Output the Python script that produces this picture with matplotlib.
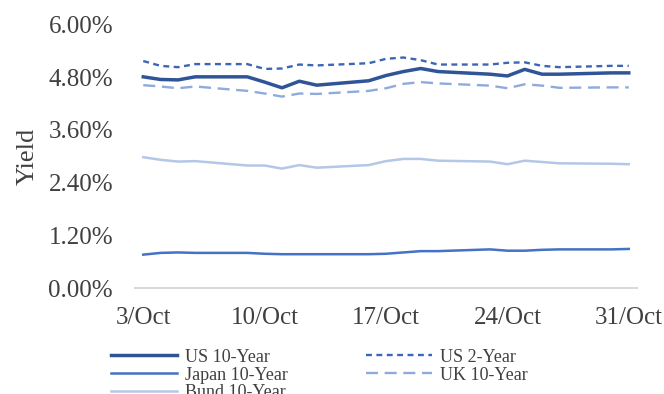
import pandas as pd
import matplotlib
matplotlib.use("Agg")
import matplotlib.pyplot as plt
import matplotlib.dates as mdates

# trading days, October 2023
days = ["2023-10-03", "2023-10-04", "2023-10-05", "2023-10-06",
        "2023-10-09", "2023-10-10", "2023-10-11", "2023-10-12", "2023-10-13",
        "2023-10-16", "2023-10-17", "2023-10-18", "2023-10-19", "2023-10-20",
        "2023-10-23", "2023-10-24", "2023-10-25", "2023-10-26", "2023-10-27",
        "2023-10-30", "2023-10-31"]

# yields in percent
us10 = [4.81, 4.75, 4.74, 4.81, 4.81, 4.69, 4.56, 4.71, 4.62, 4.72, 4.84,
        4.93, 5.00, 4.93, 4.87, 4.83, 4.98, 4.87, 4.87, 4.90, 4.90]
us2 = [5.17, 5.06, 5.03, 5.10, 5.10, 4.99, 5.00, 5.09, 5.07, 5.12, 5.22,
       5.25, 5.19, 5.09, 5.09, 5.13, 5.14, 5.06, 5.03, 5.06, 5.06]
japan10 = [0.76, 0.80, 0.81, 0.80, 0.80, 0.78, 0.77, 0.77, 0.77, 0.77, 0.78,
           0.81, 0.84, 0.84, 0.88, 0.85, 0.85, 0.87, 0.88, 0.88, 0.89]
uk10 = [4.62, 4.59, 4.55, 4.59, 4.49, 4.43, 4.36, 4.43, 4.42, 4.49, 4.55,
        4.65, 4.69, 4.66, 4.61, 4.55, 4.64, 4.61, 4.56, 4.57, 4.57]
bund10 = [2.98, 2.92, 2.88, 2.89, 2.79, 2.79, 2.72, 2.80, 2.74, 2.80, 2.89,
          2.94, 2.94, 2.90, 2.88, 2.82, 2.90, 2.87, 2.84, 2.83, 2.82]

tick_days = ["2023-10-03", "2023-10-10", "2023-10-17", "2023-10-24", "2023-10-31"]
tick_labels = ["3/Oct", "10/Oct", "17/Oct", "24/Oct", "31/Oct"]
y_ticks = [0.0, 1.2, 2.4, 3.6, 4.8, 6.0]

plt.rcParams['font.family'] = ['Liberation Serif', 'DejaVu Serif']
txt = '#404040'

x = mdates.date2num(pd.to_datetime(days))

fig = plt.figure(figsize=(6.64, 3.94), dpi=100)
ax = fig.add_axes([0.2027, 0.269, 0.7573, 0.6686])

l_us10, = ax.plot(x, us10, color='#2F5597', lw=2.5, label='US 10-Year')
l_jp, = ax.plot(x, japan10, color='#4472C4', lw=1.8, label='Japan 10-Year')
l_bund, = ax.plot(x, bund10, color='#B4C7E7', lw=1.8, label='Bund 10-Year')
l_us2, = ax.plot(x, us2, color='#3C66B5', lw=1.7, ls=(0, (2.5, 1.9)), label='US 2-Year')
l_uk, = ax.plot(x, uk10, color='#8FAADC', lw=1.7, ls=(0, (5.1, 2.8)), label='UK 10-Year')

# axis spans half a day either side of the first and last date
ax.set_xlim(x[0] - 0.5, x[-1] + 0.5)
ax.set_ylim(0, 6)
ax.set_xticks(mdates.date2num(pd.to_datetime(tick_days)))
ax.set_xticklabels(tick_labels)
ax.set_yticks(y_ticks)
ax.set_yticklabels([f"{v:.2f}%" for v in y_ticks])
ax.tick_params(axis='y', length=0, pad=15.5, labelsize=18, labelcolor=txt)
ax.tick_params(axis='x', length=0, pad=14, labelsize=18, labelcolor=txt)

for side in ['top', 'right', 'left']:
    ax.spines[side].set_visible(False)
ax.spines['bottom'].set_color('#D9D9D9')
ax.spines['bottom'].set_linewidth(1.5)

ax.set_ylabel('Yield', fontsize=19, color=txt)
ax.yaxis.set_label_coords(-0.19, 0.5)

fig.legend(handles=[l_us10, l_jp, l_bund, l_us2, l_uk], ncol=2,
           loc='upper left', bbox_to_anchor=(0.167, 0.115),
           frameon=False, fontsize=13, labelcolor=txt,
           borderpad=0, borderaxespad=0, handlelength=3.65,
           handletextpad=0.47, columnspacing=4.3, labelspacing=0.05)

fig.savefig('out.png', dpi=100)
